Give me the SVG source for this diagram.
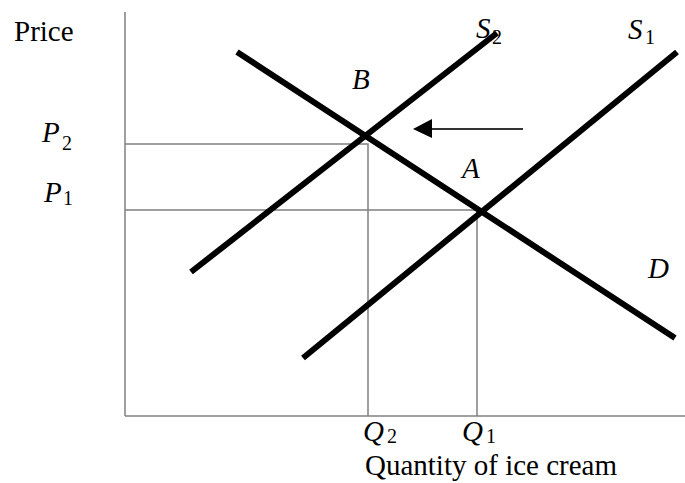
<svg xmlns="http://www.w3.org/2000/svg" width="685" height="483" viewBox="0 0 685 483">
<style>
.t{font-family:"Liberation Serif","Times New Roman",serif;font-size:29px;fill:#000}
.i{font-style:italic}
.s{font-size:20px}
.thin{stroke:#808080;stroke-width:1.5;fill:none}
.curve{stroke:#000;stroke-width:6;fill:none}
</style>
<g id="axes">
<line class="thin" x1="125" y1="12" x2="125" y2="416"/>
<line class="thin" x1="125" y1="416" x2="685" y2="416"/>
<text class="t" x="14" y="41">Price</text>
<text class="t" x="365" y="475">Quantity of ice cream</text>
</g>
<g id="guides">
<polyline class="thin" points="125,144 368,144 368,416"/>
<polyline class="thin" points="125,210 477,210 477,416"/>
</g>
<g id="curve-D">
<line class="curve" x1="237" y1="52" x2="675" y2="338"/>
<text class="t i" x="648" y="278">D</text>
</g>
<g id="curve-S2">
<line class="curve" x1="191" y1="272" x2="497" y2="33"/>
<text class="t i" x="476" y="38">S</text><text class="t s" x="492" y="44">2</text>
</g>
<g id="curve-S1">
<line class="curve" x1="303" y1="358" x2="677" y2="52"/>
<text class="t i" x="628" y="39">S</text><text class="t s" x="645" y="44">1</text>
</g>
<g id="point-B"><text class="t i" x="352" y="89">B</text></g>
<g id="point-A"><text class="t i" x="462" y="178">A</text></g>
<g id="labels">
<text class="t i" x="42" y="142">P</text><text class="t s" x="62" y="150">2</text>
<text class="t i" x="44" y="202">P</text><text class="t s" x="63" y="205">1</text>
<text class="t i" x="363" y="441">Q</text><text class="t s" x="387" y="443">2</text>
<text class="t i" x="462" y="441">Q</text><text class="t s" x="486" y="443">1</text>
</g>
<g id="connectors">
<line x1="523" y1="129" x2="432" y2="129" stroke="#333" stroke-width="2"/>
<path d="M432,119 L413,129 L432,138 Z" fill="#000"/>
</g>
</svg>
